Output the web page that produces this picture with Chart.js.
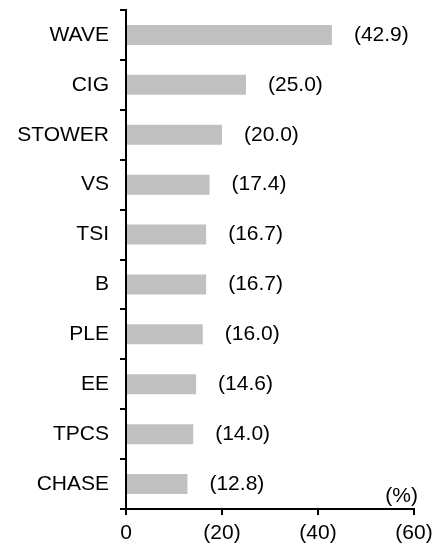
<!DOCTYPE html>
<html>
<head>
<meta charset="utf-8">
<script src="https://cdn.jsdelivr.net/npm/chart.js@4/dist/chart.umd.min.js"></script>
<style>
  html, body { margin: 0; padding: 0; background: #fff; }
  #chart-container { width: 436px; height: 543px; }
</style>
</head>
<body>
<div id="chart-container"><canvas id="myChart"></canvas></div>
<script>
// Chart data
const categories = ["WAVE", "CIG", "STOWER", "VS", "TSI", "B", "PLE", "EE", "TPCS", "CHASE"];
const shares = [42.9, 25.0, 20.0, 17.4, 16.7, 16.7, 16.0, 14.6, 14.0, 12.8];
const xTicks = [0, 20, 40, 60];
const unitLabel = "(%)";

const FONT = "'Liberation Sans', Arial, sans-serif";

// Draw "(value)" labels next to each bar and the unit label
const labelPlugin = {
  id: "barLabels",
  afterDatasetsDraw(chart) {
    const ctx = chart.ctx;
    const meta = chart.getDatasetMeta(0);
    const xScale = chart.scales.x;
    ctx.save();
    ctx.font = "21px " + FONT;
    ctx.fillStyle = "#000";
    ctx.textBaseline = "middle";
    ctx.textAlign = "left";
    meta.data.forEach((bar, i) => {
      const x = xScale.getPixelForValue(shares[i]) + 22;
      ctx.fillText("(" + shares[i].toFixed(1) + ")", x, bar.y);
    });
    // unit label
    ctx.textAlign = "right";
    ctx.textBaseline = "bottom";
    ctx.fillText(unitLabel, chart.chartArea.right + 4, chart.chartArea.bottom - 2);
    ctx.restore();
  },
};

const ctx = document.getElementById("myChart").getContext("2d");
const chart = new Chart(ctx, {
  type: "bar",
  data: {
    labels: categories,
    datasets: [
      {
        data: shares,
        backgroundColor: "#c0c0c0",
        borderWidth: 0,
        barPercentage: 0.4,
        categoryPercentage: 1.0,
      },
    ],
  },
  options: {
    indexAxis: "y",
    responsive: true,
    maintainAspectRatio: false,
    animation: false,
    layout: {
      padding: { top: 10, right: 22, left: 0, bottom: 0 },
    },
    plugins: {
      legend: { display: false },
      tooltip: { enabled: false },
    },
    scales: {
      x: {
        min: 0,
        max: 60,
        afterBuildTicks: (scale) => {
          scale.ticks = xTicks.map((v) => ({ value: v }));
        },
        ticks: {
          color: "#000",
          font: { family: FONT, size: 21 },
          padding: 6,
          maxRotation: 0,
          callback: (value) => (value === 0 ? "0" : "(" + value + ")"),
        },
        grid: {
          drawOnChartArea: false,
          drawTicks: true,
          tickLength: 6,
          color: "#000",
          lineWidth: 2,
        },
        border: { display: true, color: "#000", width: 2 },
        afterFit: (scale) => {
          scale.height = 34;
          scale.paddingLeft = 0;
          scale.paddingRight = 0;
        },
      },
      y: {
        ticks: {
          color: "#000",
          font: { family: FONT, size: 21 },
          padding: 11,
        },
        grid: {
          drawOnChartArea: false,
          drawTicks: true,
          tickLength: 6,
          color: "#000",
          lineWidth: 2,
          offset: true,
        },
        border: { display: true, color: "#000", width: 2 },
        afterFit: (scale) => {
          scale.width = 126;
          scale.paddingTop = 0;
          scale.paddingBottom = 0;
        },
      },
    },
  },
  plugins: [labelPlugin],
});
</script>
</body>
</html>
